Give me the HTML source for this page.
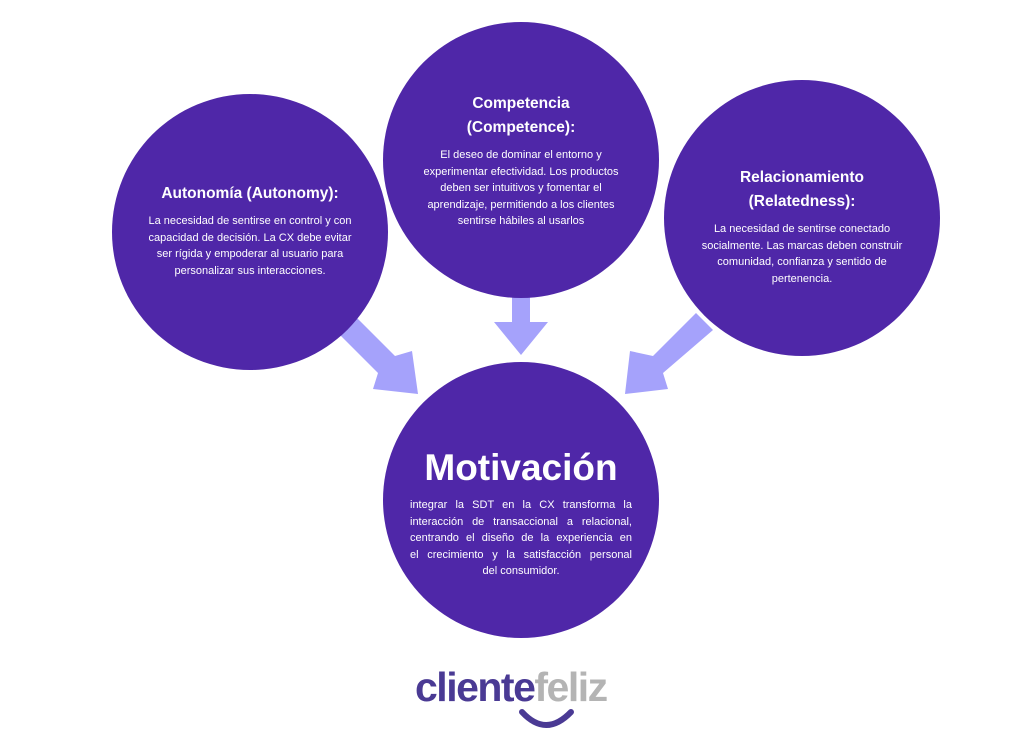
<!DOCTYPE html>
<html><head><meta charset="utf-8"><style>
body{margin:0;width:1024px;height:742px;background:#fff;position:relative;overflow:hidden;font-family:"Liberation Sans",sans-serif;}
.c{position:absolute;width:276px;height:276px;border-radius:50%;background:#4f27a8;color:#fff;text-align:center;box-sizing:border-box;}
.t{font-weight:bold;font-size:15.5px;line-height:24px;}
.b{font-size:11px;line-height:16.5px;margin:7px auto 0;}
.j div{text-align:justify;text-align-last:justify;white-space:nowrap;}
</style></head><body>
<svg width="1024" height="742" style="position:absolute;left:0;top:0">
<g fill="#a5a2fb">
<polygon points="512,296 530,296 530,322 548,322 521,355 494,322 512,322"/>
<polygon points="335,330 352,313 395,356 412,351 418,394 373,389 378,373"/>
<polygon points="713,330 696,313 653,356 630,351 625,394 668,389 663,373"/>
</g>
</svg>
<div class="c" style="left:112px;top:94px;padding:88px 0 0">
<div class="t">Autonomía (Autonomy):</div>
<div class="b" style="width:220px">La necesidad de sentirse en control y con capacidad de decisión. La CX debe evitar ser rígida y empoderar al usuario para personalizar sus interacciones.</div></div>
<div class="c" style="left:383px;top:22px;padding:70px 0 0">
<div class="t">Competencia<br>(Competence):</div>
<div class="b" style="width:214px">El deseo de dominar el entorno y experimentar efectividad. Los productos deben ser intuitivos y fomentar el aprendizaje, permitiendo a los clientes sentirse hábiles al usarlos</div></div>
<div class="c" style="left:664px;top:80px;padding:86px 0 0">
<div class="t">Relacionamiento<br>(Relatedness):</div>
<div class="b" style="width:222px">La necesidad de sentirse conectado socialmente. Las marcas deben construir comunidad, confianza y sentido de pertenencia.</div></div>
<div class="c" style="left:383px;top:362px;padding:84px 0 0">
<div style="font-weight:bold;font-size:37px;line-height:44px">Motivación</div>
<div class="b j" style="width:222px">
<div>integrar la SDT en la CX transforma la</div>
<div>interacción de transaccional a relacional,</div>
<div>centrando el diseño de la experiencia en</div>
<div>el crecimiento y la satisfacción personal</div>
<div style="text-align:center;text-align-last:center">del consumidor.</div>
</div></div>
<div style="position:absolute;left:415px;top:664px;font-weight:bold;font-size:41px;letter-spacing:-1.5px;line-height:46px"><span style="color:#4a3a94">cliente</span><span style="color:#b4b4b4">feliz</span></div>
<svg width="1024" height="742" style="position:absolute;left:0;top:0"><path d="M522,712 Q546,738 571,712" stroke="#4a3a94" stroke-width="6" fill="none" stroke-linecap="round"/></svg>
</body></html>
